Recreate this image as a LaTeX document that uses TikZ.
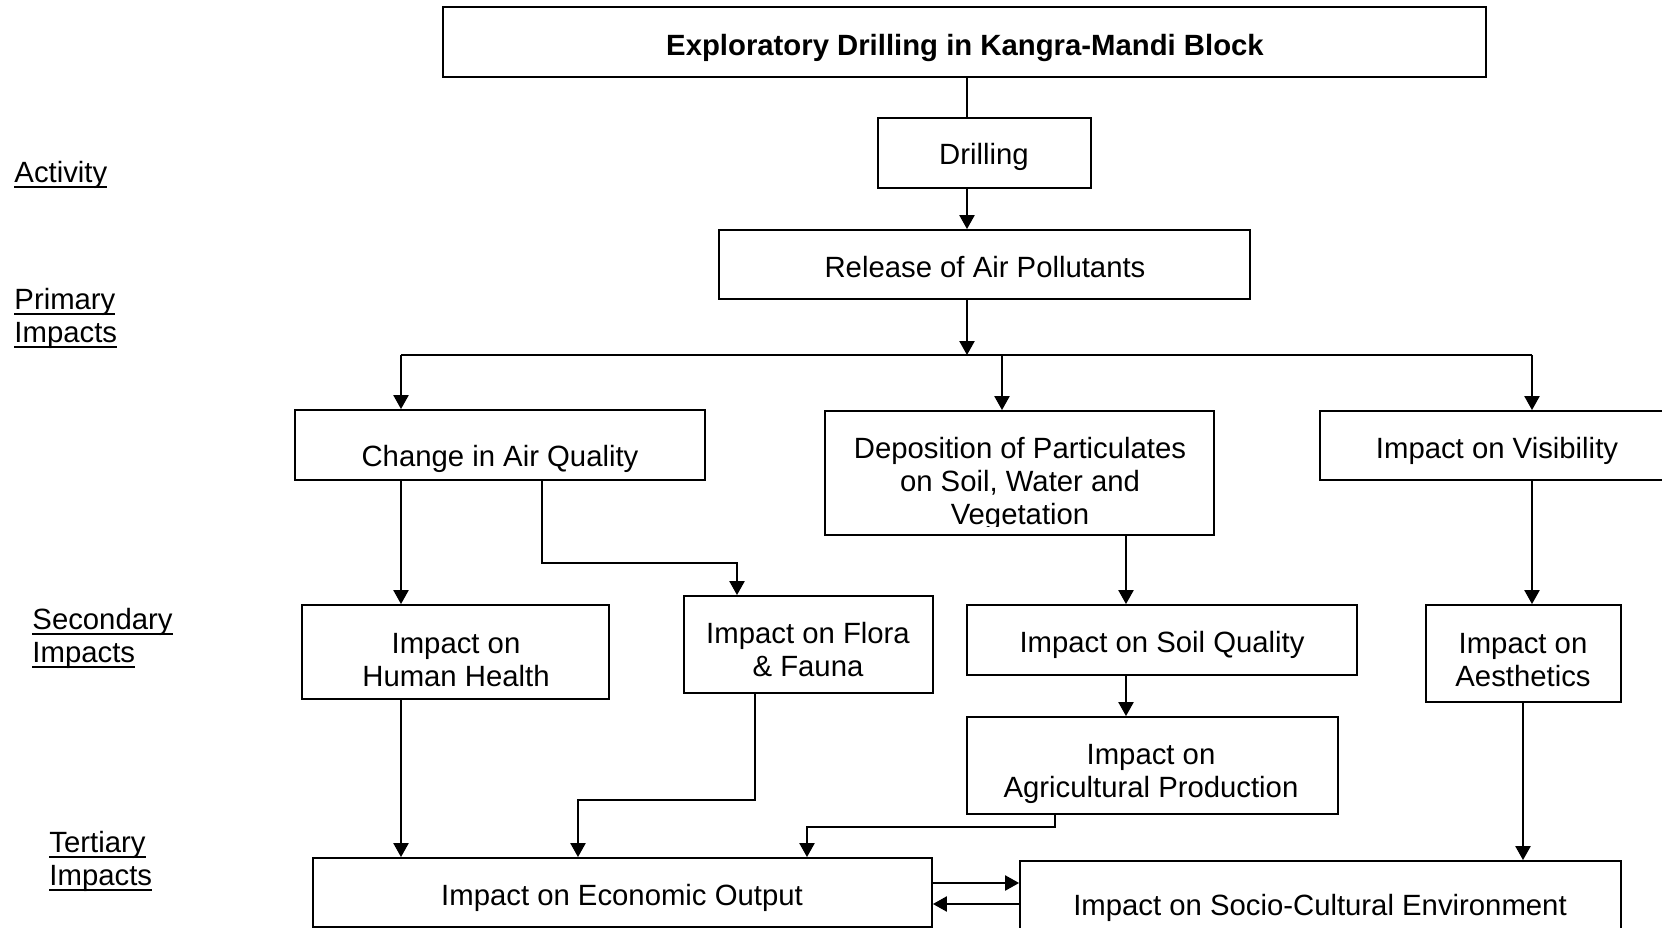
\documentclass[tikz,border=0pt]{standalone}
\usepackage{fontspec}
\setmainfont{Liberation Sans}
\usetikzlibrary{arrows.meta,fit}
% heavy underline for the level labels
\newlength\ulwidth
\newcommand\ulabel[1]{\settowidth\ulwidth{#1}\rlap{\rule[-2.5pt]{\ulwidth}{0.9pt}}#1}
\begin{document}
\begin{tikzpicture}[x=0.43pt,y=-0.43pt,
  box/.style={draw, line width=0.8pt, inner sep=0pt},
  txt/.style={align=center, font=\fontsize{12.6}{14.2}\selectfont, inner sep=0pt},
  lvl/.style={anchor=west, align=left, font=\fontsize{12.6}{14.2}\selectfont, inner sep=0pt},
  link/.style={line width=0.8pt},
  arr/.style={link, -{Triangle[width=6.5pt,length=6pt]}}]
\useasboundingbox[fill=white] (0,0) rectangle (1662,928);

% level labels on the left
\node[lvl] (lactivity)  at (14,175) {\ulabel{Activity}};
\node[lvl] (lprimary)   at (14,318) {\ulabel{Primary}\\\ulabel{Impacts}};
\node[lvl] (lsecondary) at (32,638) {\ulabel{Secondary}\\\ulabel{Impacts}};
\node[lvl] (ltertiary)  at (49,861) {\ulabel{Tertiary}\\\ulabel{Impacts}};

% boxes
\node[box, fit={(443,7) (1486,77)}]    (top)   {};
\node[box, fit={(878,118) (1091,188)}] (drill) {};
\node[box, fit={(719,230) (1250,299)}] (rel)   {};
\node[box, fit={(295,410) (705,480)}]  (air)   {};
\node[box, fit={(825,411) (1214,535)}] (dep)   {};
\node[box, fit={(1320,411) (1676,480)}] (vis)  {};
\node[box, fit={(302,605) (609,699)}]  (hh)    {};
\node[box, fit={(684,596) (933,693)}]  (flora) {};
\node[box, fit={(967,605) (1357,675)}] (soil)  {};
\node[box, fit={(1426,605) (1621,702)}] (aes)  {};
\node[box, fit={(967,717) (1338,814)}] (agri)  {};
\node[box, fit={(313,858) (932,927)}]  (econ)  {};
\node[box, fit={(1020,861) (1621,960)}] (socio) {};

% box texts
\node[txt, font=\fontsize{12.6}{14.2}\selectfont\bfseries] (ttop) at (965,48) {Exploratory Drilling in Kangra-Mandi Block};
\node[txt] (tdrill) at (984,157) {Drilling};
\node[txt] (trel)   at (985,267) {Release of Air Pollutants};
\node[txt] (tair)   at (500,459) {Change in Air Quality};
\begin{scope}
  \clip (825,411) rectangle (1214,526);
  \node[txt] (tdep) at (1020,484) {Deposition of Particulates\\on Soil, Water and\\Vegetation};
\end{scope}
\node[txt] (tvis)   at (1497,451) {Impact on Visibility};
\node[txt] (thh)    at (456,660) {Impact on\\Human Health};
\node[txt] (tflora) at (808,650) {Impact on Flora\\\& Fauna};
\node[txt] (tsoil)  at (1162,645) {Impact on Soil Quality};
\node[txt] (taes)   at (1523,660) {Impact on\\Aesthetics};
\node[txt] (tagri)  at (1151,774) {Impact on\\Agricultural Production};
\node[txt] (tecon)  at (622,898) {Impact on Economic Output};
\node[txt] (tsocio) at (1320,908) {Impact on Socio-Cultural Environment};

% routing coordinates
\coordinate (trunk) at (967,355);
\coordinate (busL)  at (401,355);
\coordinate (busM)  at (1002,355);
\coordinate (busR)  at (1532,355);
\coordinate (airB)  at (542,563);
\coordinate (floB)  at (755,800);
\coordinate (ecoA)  at (578,800);
\coordinate (agrB)  at (1055,827);
\coordinate (ecoB)  at (807,827);
\coordinate (depx)  at (1126,0);
\coordinate (aesx)  at (1523,0);
\coordinate (fdx)   at (737,0);
\coordinate (ey1)   at (0,883);
\coordinate (ey2)   at (0,904);

% connectors
\draw[link] (trunk |- top.south) -- (trunk |- drill.north);
\draw[arr]  (trunk |- drill.south) -- (trunk |- rel.north);
\draw[arr]  (trunk |- rel.south) -- (trunk);
\draw[link] (busL) -- (busR);
\draw[arr]  (busL) -- (busL |- air.north);
\draw[arr]  (busM) -- (busM |- dep.north);
\draw[arr]  (busR) -- (busR |- vis.north);
\draw[arr]  (busL |- air.south) -- (busL |- hh.north);
\draw[arr]  (airB |- air.south) -- (airB) -| (fdx |- flora.north);
\draw[arr]  (depx |- dep.south) -- (depx |- soil.north);
\draw[arr]  (busR |- vis.south) -- (busR |- aes.north);
\draw[arr]  (depx |- soil.south) -- (depx |- agri.north);
\draw[arr]  (busL |- hh.south) -- (busL |- econ.north);
\draw[arr]  (floB |- flora.south) -- (floB) -- (ecoA) -- (ecoA |- econ.north);
\draw[arr]  (agrB |- agri.south) -- (agrB) -- (ecoB) -- (ecoB |- econ.north);
\draw[arr]  (aesx |- aes.south) -- (aesx |- socio.north);
\draw[arr]  (econ.east |- ey1) -- (socio.west |- ey1);
\draw[arr]  (socio.west |- ey2) -- (econ.east |- ey2);
\end{tikzpicture}
\end{document}
